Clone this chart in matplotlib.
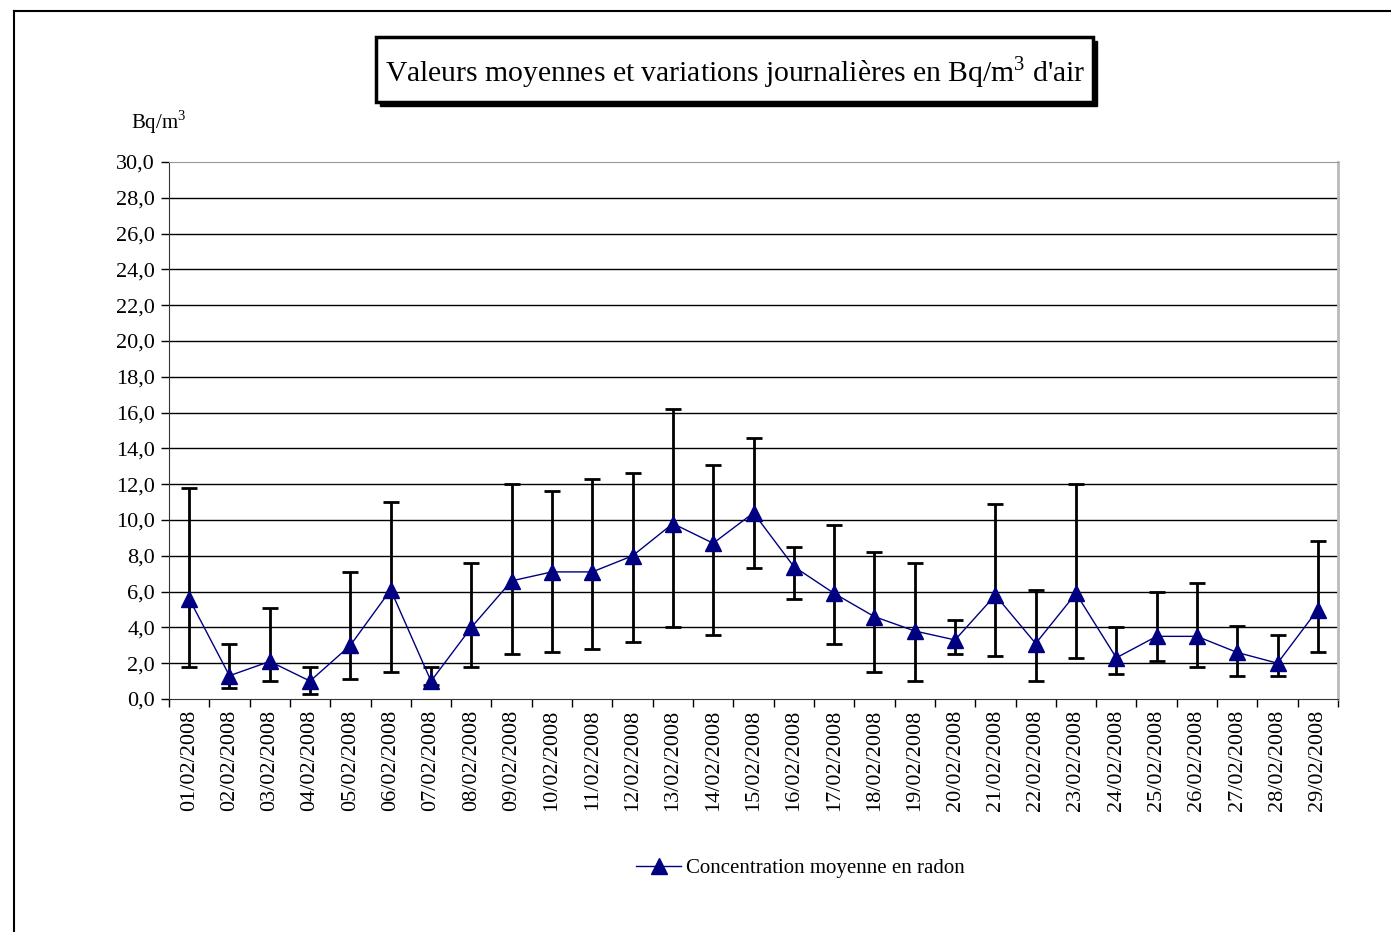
import matplotlib
matplotlib.use("Agg")
import matplotlib.pyplot as plt
from matplotlib.patches import Rectangle
from matplotlib.lines import Line2D

plt.rcParams['font.family'] = ['Liberation Serif', 'DejaVu Serif']
plt.rcParams['mathtext.fontset'] = 'custom'
plt.rcParams['mathtext.rm'] = 'Liberation Serif'

# daily values in Bq/m3
dates = ["%02d/02/2008" % d for d in range(1, 30)]
mean_values = [5.6, 1.3, 2.1, 1.0, 3.0, 6.1, 1.0, 4.0, 6.6, 7.1,
               7.1, 8.0, 9.8, 8.7, 10.4, 7.4, 5.9, 4.6, 3.8, 3.3,
               5.8, 3.1, 5.9, 2.3, 3.5, 3.5, 2.6, 2.0, 5.0]
min_values = [1.8, 0.6, 1.0, 0.3, 1.1, 1.5, 0.8, 1.8, 2.5, 2.6,
              2.8, 3.2, 4.0, 3.6, 7.3, 5.6, 3.1, 1.5, 1.0, 2.5,
              2.4, 1.0, 2.3, 1.4, 2.1, 1.8, 1.3, 1.3, 2.6]
max_values = [11.8, 3.1, 5.1, 1.8, 7.1, 11.0, 1.8, 7.6, 12.0, 11.6,
              12.3, 12.6, 16.2, 13.1, 14.6, 8.5, 9.7, 8.2, 7.6, 4.4,
              10.9, 6.1, 12.0, 4.0, 6.0, 6.5, 4.1, 3.6, 8.8]
yticks = [0, 2, 4, 6, 8, 10, 12, 14, 16, 18, 20, 22, 24, 26, 28, 30]

W, H = 1391, 932
fig = plt.figure(figsize=(W / 100, H / 100), dpi=100)
ax = fig.add_axes([169 / W, 1 - 699 / H, (1338 - 169) / W, (699 - 162) / H])

x = list(range(len(dates)))
err_low = [m - lo for m, lo in zip(mean_values, min_values)]
err_high = [hi - m for m, hi in zip(mean_values, max_values)]

ax.errorbar(x, mean_values, yerr=[err_low, err_high], fmt='none',
            ecolor='black', elinewidth=2, capsize=6, capthick=2, zorder=3)
ax.plot(x, mean_values, color='#000080', lw=1, marker='^', ms=11.5,
        label='Concentration moyenne en radon', zorder=4)

ax.set_xlim(-0.5, len(dates) - 0.5)
ax.set_ylim(0, 30)
ax.set_yticks(yticks)
ax.set_yticklabels([("%.1f" % v).replace('.', ',') for v in yticks], fontsize=16)
for v in yticks[1:-1]:
    ax.axhline(v, color='black', lw=1, zorder=1)

# category boundaries as ticks, labels centred
ax.set_xticks([i - 0.5 for i in range(len(dates) + 1)])
ax.set_xticklabels([])
ax.set_xticks(x, minor=True)
ax.set_xticklabels(dates, minor=True, rotation=90, fontsize=16)
ax.tick_params(axis='x', which='major', length=6, width=1)
ax.tick_params(axis='x', which='minor', length=0, pad=8)
ax.tick_params(axis='y', length=6, width=1, pad=4)

ax.spines['top'].set_color('#999999')
ax.spines['right'].set_color('#bbbbbb')
ax.spines['right'].set_linewidth(2)
ax.spines['left'].set_color('#333333')
ax.spines['bottom'].set_color('#333333')

fig.text(131 / W, 1 - 122 / H, 'Bq/m$^3$', fontsize=15, va='center', ha='left')

# title box with shadow
bx, by, bw, bh = 376 / W, 1 - 102 / H, 717 / W, 65 / H
fig.add_artist(Rectangle((bx + 4 / W, by - 4 / H), bw, bh, transform=fig.transFigure,
                         fc='black', ec='black', lw=1))
fig.add_artist(Rectangle((bx, by), bw, bh, transform=fig.transFigure,
                         fc='white', ec='black', lw=2.5))
fig.text(735 / W, 1 - 73 / H, "Valeurs moyennes et variations journalières en Bq/m$^3$ d'air",
         fontsize=21.3, ha='center', va='center')

# outer frame (left and top edges)
fig.add_artist(Line2D([14 / W, 14 / W], [0, 1 - 11 / H], transform=fig.transFigure,
                      color='black', lw=1.5))
fig.add_artist(Line2D([14 / W, 1], [1 - 11 / H, 1 - 11 / H], transform=fig.transFigure,
                      color='black', lw=1.5))

fig.legend(loc='center', bbox_to_anchor=(800 / W, 1 - 868 / H), frameon=False,
           fontsize=15, handlelength=2.2, handletextpad=0.2)

fig.savefig('out.png', dpi=100)
